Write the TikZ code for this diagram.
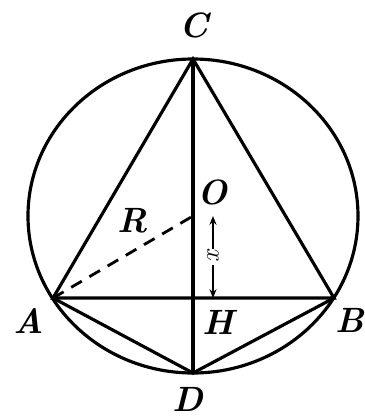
\documentclass[tikz,border=0pt]{standalone}
\usetikzlibrary{arrows.meta}

\tikzset{
  edge/.style={line width=1.8pt, line cap=round},
  radius line/.style={line width=1.6pt, dash pattern=on 7pt off 5pt},
  dim/.style={line width=0.9pt, {Stealth[length=5pt,width=4pt]}-{Stealth[length=5pt,width=4pt]}},
  lbl/.style={font=\fontsize{20}{20}\selectfont\bfseries\itshape, inner sep=1pt}
}

\begin{document}
\begin{tikzpicture}[x=0.02cm, y=-0.02cm]

        \useasboundingbox (0,0) rectangle (365,416);

        % ---------------------------------------------------
        % 1. Points
        % ---------------------------------------------------
        \coordinate (O) at (193, 216);
        \coordinate (C) at (193, 59);
        \coordinate (D) at (193, 373);
        \coordinate (A) at (53, 298);
        \coordinate (B) at (334, 298);
        \coordinate (H) at (193, 298);
        % ends of the x arrow, beside OH
        \coordinate (xtop) at (213, 216);
        \coordinate (xbot) at (213, 298);

        % ---------------------------------------------------
        % 2. Circle (slightly wider than tall, as in the print)
        % ---------------------------------------------------
        \draw[edge] (O) ellipse (165 and 157);

        % ---------------------------------------------------
        % 3. Chords
        % ---------------------------------------------------
        \draw[edge] (A) -- (C) -- (B) -- cycle;
        \draw[edge] (A) -- (D) -- (B);
        \draw[edge] (C) -- (D);

        % radius AO
        \draw[radius line] (A) -- (O);

        % distance OH
        \draw[dim] (xtop) -- (xbot) node[midway, fill=white, inner sep=1pt, rotate=90, font=\fontsize{15}{15}\selectfont\itshape] {x};

        % ---------------------------------------------------
        % 4. Labels
        % ---------------------------------------------------
        \node[lbl] (lC) at (194, 25) {C};
        \node[lbl] (lD) at (188, 399) {D};
        \node[lbl] (lA) at (29, 321) {A};
        \node[lbl] (lB) at (350, 320) {B};
        \node[lbl] (lH) at (218, 322) {H};
        \node[lbl] (lO) at (213, 192) {O};
        \node[lbl] (lR) at (133, 221) {R};

\end{tikzpicture}
\end{document}
